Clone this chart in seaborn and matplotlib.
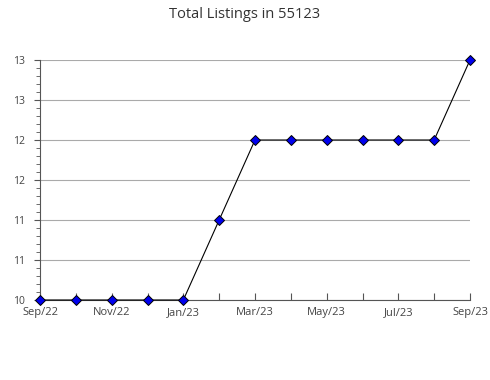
import matplotlib
matplotlib.use("Agg")
import matplotlib.pyplot as plt
import seaborn as sns
import pandas as pd
from matplotlib.ticker import MultipleLocator

months = ["Sep/22", "Oct/22", "Nov/22", "Dec/22", "Jan/23", "Feb/23", "Mar/23",
          "Apr/23", "May/23", "Jun/23", "Jul/23", "Aug/23", "Sep/23"]
listings = [10, 10, 10, 10, 10, 11, 12, 12, 12, 12, 12, 12, 13]
y_ticks = [10, 10.5, 11, 11.5, 12, 12.5, 13]
y_tick_labels = ["10", "11", "11", "12", "12", "13", "13"]
title = "Total Listings in 55123"

df = pd.DataFrame({"idx": range(len(months)), "month": months, "value": listings})

sns.set_style("white")
plt.rcParams["font.family"] = ["Open Sans", "DejaVu Sans"]

fig = plt.figure(figsize=(4.9, 3.8), dpi=100)
ax = fig.add_axes([40/490, 1-300/380, 430/490, 240/380])

sns.lineplot(data=df, x="idx", y="value", ax=ax, color="black", linewidth=0.8,
             marker="D", markersize=5.5, markerfacecolor="#0000ee",
             markeredgecolor="black", markeredgewidth=0.7, zorder=3, clip_on=False)

ax.set_xlim(0, len(months) - 1)
ax.set_ylim(10, 13)
ax.set_yticks(y_ticks)
ax.set_yticklabels(y_tick_labels)
ax.yaxis.set_minor_locator(MultipleLocator(0.1))
ax.set_xticks(range(len(months)))
ax.set_xticklabels([m if i % 2 == 0 else "" for i, m in enumerate(months)])
ax.grid(axis="y", color="#aaaaaa", linewidth=0.8)
ax.set_axisbelow(True)
for s in ["top", "right"]:
    ax.spines[s].set_visible(False)
for s in ["left", "bottom"]:
    ax.spines[s].set_color("#555555")
    ax.spines[s].set_linewidth(0.8)
ax.tick_params(axis="y", which="major", left=True, direction="out", length=4,
               color="#555555", width=0.8, labelsize=7.5, labelcolor="#444444", pad=7)
ax.tick_params(axis="y", which="minor", left=True, direction="out", length=3,
               color="#555555", width=0.6)
ax.tick_params(axis="x", which="major", bottom=True, direction="in", length=5,
               color="#555555", width=0.8, labelsize=8, labelcolor="#444444", pad=5)
ax.set_xlabel("")
ax.set_ylabel("")
fig.suptitle(title, x=245/490, y=1-15/380, fontsize=10.5, color="#333333", va="center")

fig.savefig("out.png", dpi=100)
